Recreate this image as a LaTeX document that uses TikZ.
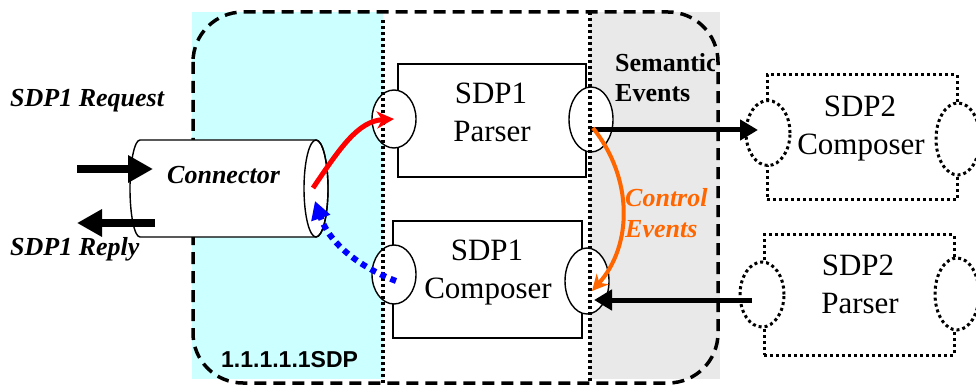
\documentclass[tikz,border=0pt]{standalone}
\usepackage{fontspec}
\setmainfont{Liberation Serif}
\setsansfont{Liberation Sans}
\usetikzlibrary{arrows.meta,shapes.geometric}
\definecolor{zonecyan}{HTML}{CCFFFF}
\definecolor{zonegray}{HTML}{E9E9E9}
\definecolor{ctrlorange}{HTML}{FF6600}

\begin{document}
\begin{tikzpicture}[x=1pt,y=-1pt,
  lbl/.style={inner sep=0pt, anchor=base},
  lblw/.style={inner sep=0pt, anchor=base west},
  big/.style={font=\fontsize{31}{36}\selectfont},
  bi/.style={font=\fontsize{26}{30}\selectfont\bfseries\itshape},
  bd/.style={font=\fontsize{26}{30}\selectfont\bfseries},
  box/.style={draw, line width=1.4pt, inner sep=0pt},
  dbox/.style={draw, line width=3pt, dash pattern=on 3pt off 3pt, inner sep=0pt},
  port/.style={ellipse, draw, line width=1.4pt, fill=white, inner sep=0pt,
               minimum width=44pt, minimum height=#1},
  dport/.style={ellipse, draw, line width=3pt, dash pattern=on 3pt off 3pt,
               fill=white, inner sep=0pt, minimum width=44pt, minimum height=#1},
  sep/.style={line width=3.5pt, dash pattern=on 3pt off 3pt},
  outline/.style={line width=3.5pt, dash pattern=on 12pt off 7pt, rounded corners=50pt},
  fat/.style={line width=8pt, -{Triangle[length=25pt,width=26pt]}},
  evt/.style={line width=5pt, -{Triangle[length=18pt,width=20pt]}}
]
\useasboundingbox (0,0) rectangle (976,387);

% zones
\fill[zonecyan] (192,12) rectangle (383,379);
\fill[zonegray] (590,12) rectangle (720,379);

% SDP1 components
\node[box, minimum width=188pt, minimum height=113pt] (parser1) at (492,120.5) {};
\node[box, minimum width=189pt, minimum height=117pt] (composer1) at (487.5,279.5) {};
\node[port=58pt] (pPL) at (394,119) {};
\node[port=65pt] (pPR) at (591,119.5) {};
\node[port=59pt] (pCL) at (394,274.5) {};
\node[port=66pt] (pCR) at (587,281) {};
\node[lbl, big] (t1a) at (491,104) {SDP1};
\node[lbl, big] (t1b) at (492,142) {Parser};
\node[lbl, big] (t2a) at (487,260) {SDP1};
\node[lbl, big] (t2b) at (488,298) {Composer};

% SDP2 components
\node[dbox, minimum width=190pt, minimum height=125pt] (composer2) at (862,137.5) {};
\node[dbox, minimum width=190pt, minimum height=120pt] (parser2) at (859,295) {};
\node[dport=65pt] (qCL) at (768,133) {};
\node[dport=72pt] (qCR) at (958,139) {};
\node[dport=65pt] (qPL) at (762,294.5) {};
\node[dport=72pt] (qPR) at (957,294) {};
\node[lbl, big] (t3a) at (860,117) {SDP2};
\node[lbl, big] (t3b) at (861,155) {Composer};
\node[lbl, big] (t4a) at (858,275) {SDP2};
\node[lbl, big] (t4b) at (860,313) {Parser};

% zone separators and outline
\draw[sep] (383,20) -- (383,383);
\draw[sep] (590,12) -- (590,383);
\draw[outline] (193,12) rectangle (718,383);

% connector cylinder (radii given in pt, angles on the page)
\draw[line width=1.4pt, fill=white] (140,140) -- (316,140)
  arc[start angle=90, end angle=-90, x radius=12pt, y radius=48.5pt]
  -- (140,237) arc[start angle=270, end angle=90, x radius=10pt, y radius=48.5pt] -- cycle;
\draw[line width=1.4pt] (316,188.5) ellipse[x radius=12pt, y radius=48.5pt];
\node[lblw, bi] (conn) at (167,184) {Connector};

% external request / reply
\coordinate (reqA) at (77,169);
\coordinate (reqB) at (153,169);
\coordinate (repA) at (155,223);
\coordinate (repB) at (77,223);
\draw[fat] (reqA) -- (reqB);
\draw[fat] (repA) -- (repB);
\node[lblw, bi] (req) at (10,107) {SDP1 Request};
\node[lblw, bi] (rep) at (10,255) {SDP1 Reply};

% internal flows
\coordinate (cOut) at (313,188);
\coordinate (cIn) at (315,201);
\coordinate (pClo) at (396,281);
\draw[red, line width=5pt, -{Stealth[length=17pt,width=17pt,inset=5pt]}]
  (cOut) .. controls (340,148) and (358,121) .. (pPL.center);
\draw[blue, line width=6pt, dash pattern=on 6pt off 5pt,
      -{Triangle[length=18pt,width=19pt]}]
  (pClo) .. controls (362,268) and (330,245) .. (cIn);

\coordinate (sA) at (590,130);
\coordinate (sB) at (758,130);
\coordinate (bA) at (752,300);
\coordinate (bB) at (594,300);
\draw[evt] (sA) -- (sB);
\draw[evt] (bA) -- (bB);

\coordinate (oA) at (593,128);
\coordinate (oB) at (592,291);
\draw[ctrlorange, line width=4pt, -{Stealth[length=16pt,width=16pt,inset=5pt]}]
  (oA) .. controls (633,178) and (633,245) .. (oB);
\node[lblw, bi, text=ctrlorange] (ctl1) at (625,207) {Control};
\node[lblw, bi, text=ctrlorange] (ctl2) at (625,237) {Events};

% zone labels
\begin{scope}
  \clip (590,12) rectangle (714,120);
  \node[lblw, bd] (sem1) at (615,72) {Semantic};
  \node[lblw, bd] (sem2) at (615,102) {Events};
\end{scope}
\node[lblw, font=\fontsize{23}{26}\selectfont\sffamily\bfseries] (zone) at (221,367) {1.1.1.1.1SDP};
\end{tikzpicture}
\end{document}
